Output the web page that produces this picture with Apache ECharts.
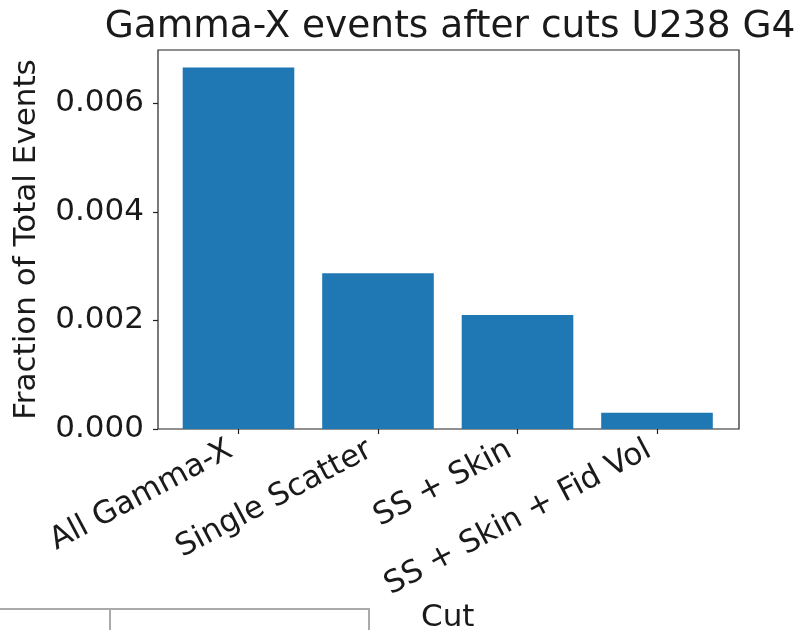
<!DOCTYPE html>
<html>
<head>
<meta charset="utf-8">
<script src="https://cdn.jsdelivr.net/npm/echarts@6/dist/echarts.min.js"></script>
<style>
  html, body { margin: 0; padding: 0; background: #fff; }
  #chart { width: 798px; height: 630px; }
</style>
</head>
<body>
<div id="chart"></div>
<script>
const categories = ['All Gamma-X', 'Single Scatter', 'SS + Skin', 'SS + Skin + Fid Vol'];
const fractions = [0.00666, 0.00287, 0.00210, 0.00030];
const yTicks = [0, 0.002, 0.004, 0.006];
const yMax = 0.00698;

const FONT = 'DejaVu Sans';
const TEXT = '#1a1a1a';

const chart = echarts.init(document.getElementById('chart'), null, { renderer: 'canvas' });

const option = {
  backgroundColor: '#ffffff',
  animation: false,
  grid: [
    // bars
    { left: 168.75, right: 71.25, top: 50, bottom: 201, outerBoundsMode: 'none', containLabel: false },
    // axes frame
    {
      left: 158, right: 59, top: 50, bottom: 201,
      outerBoundsMode: 'none', containLabel: false,
      show: true, borderColor: '#222', borderWidth: 1.2, backgroundColor: 'transparent',
    },
  ],
  xAxis: [
    {
      type: 'category',
      gridIndex: 0,
      data: categories,
      name: 'Cut',
      nameLocation: 'middle',
      nameGap: 173,
      nameMoveOverlap: false,
      nameTextStyle: { fontFamily: FONT, fontSize: 31, color: TEXT },
      axisLine: { show: false },
      axisTick: { show: true, alignWithLabel: true, length: 5, lineStyle: { color: '#222', width: 1.2 } },
      axisLabel: {
        interval: 0,
        rotate: 28,
        margin: 15,
        padding: [0, 9, 0, 0],
        fontFamily: FONT,
        fontSize: 31,
        color: TEXT,
      },
      splitLine: { show: false },
    },
    { type: 'value', gridIndex: 1, show: false, min: 0, max: 1 },
  ],
  yAxis: [
    { type: 'value', gridIndex: 0, show: false, min: 0, max: yMax },
    {
      type: 'value',
      gridIndex: 1,
      min: 0,
      max: yMax,
      name: 'Fraction of Total Events',
      nameLocation: 'middle',
      nameRotate: 90,
      nameGap: 116,
      nameMoveOverlap: false,
      nameTextStyle: { fontFamily: FONT, fontSize: 31, color: TEXT },
      axisLine: { show: false },
      axisTick: { show: true, length: 5, customValues: yTicks, lineStyle: { color: '#222', width: 1.2 } },
      axisLabel: {
        customValues: yTicks,
        margin: 14,
        fontFamily: FONT,
        fontSize: 31,
        color: TEXT,
        formatter: (v) => v.toFixed(3),
      },
      splitLine: { show: false },
    },
  ],
  series: [
    {
      type: 'bar',
      xAxisIndex: 0,
      yAxisIndex: 0,
      data: fractions,
      barWidth: '80%',
      itemStyle: { color: '#1f77b4' },
    },
  ],
  graphic: [
    {
      type: 'text',
      x: 450,
      y: 8,
      style: {
        text: 'Gamma-X events after cuts U238 G4',
        font: '37.5px "DejaVu Sans"',
        fill: TEXT,
        textAlign: 'center',
        textVerticalAlign: 'top',
      },
    },
    {
      type: 'rect',
      shape: { x: -2, y: 609, width: 371, height: 40 },
      style: { fill: 'none', stroke: '#aaaaaa', lineWidth: 2 },
    },
    {
      type: 'line',
      shape: { x1: 110, y1: 609, x2: 110, y2: 640 },
      style: { stroke: '#aaaaaa', lineWidth: 2 },
    },
  ],
};

chart.setOption(option);
</script>
</body>
</html>
